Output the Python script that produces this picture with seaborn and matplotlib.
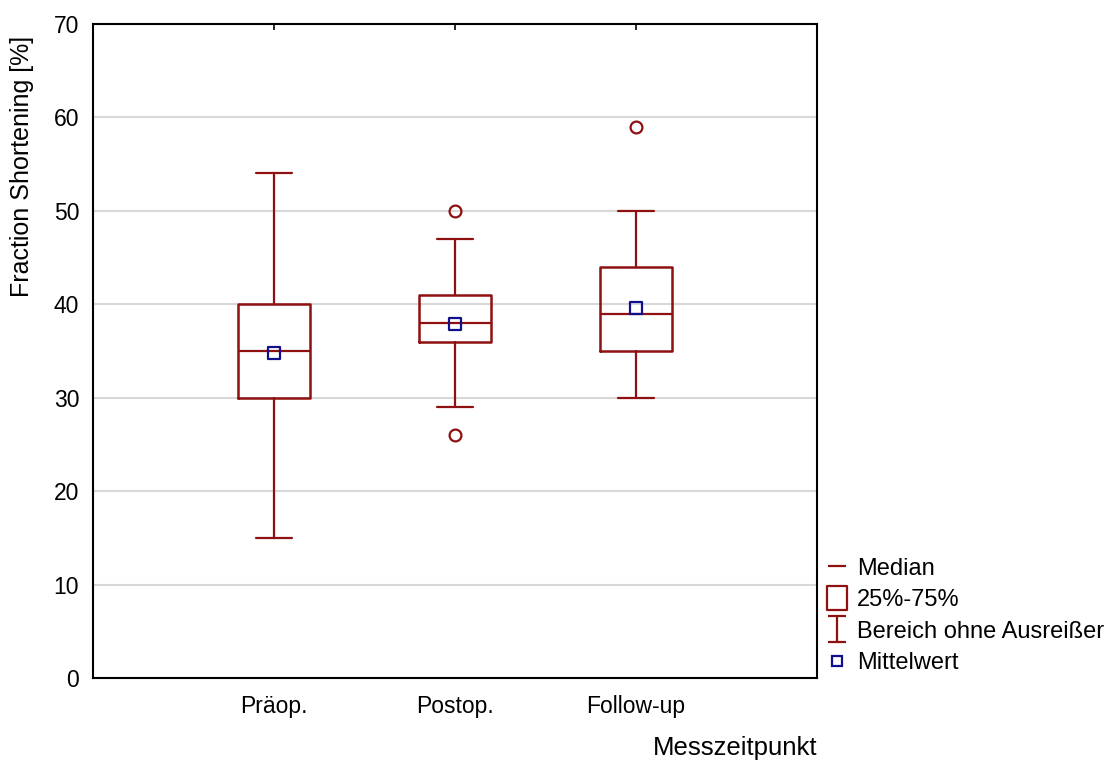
import numpy as np
import matplotlib
matplotlib.use("Agg")
import matplotlib.pyplot as plt
from matplotlib.lines import Line2D
from matplotlib.path import Path
import seaborn as sns

# ---- data ----
categories = ["Präop.", "Postop.", "Follow-up"]
q1 = [30, 36, 35]
medians = [35, 38, 39]
q3 = [40, 41, 44]
whisker_low = [15, 29, 30]
whisker_high = [54, 47, 50]
outliers = [[], [26, 50], [59]]
means = [34.8, 37.9, 39.6]

yticks = [0, 10, 20, 30, 40, 50, 60, 70]
legend_labels = ["Median", "25%-75%", "Bereich ohne Ausreißer", "Mittelwert"]

RED = "#8e1010"
BLUE = "#10108e"

sns.set_style("white")
plt.rcParams["font.family"] = ["Liberation Sans", "DejaVu Sans"]
plt.rcParams["text.color"] = "black"
plt.rcParams["xtick.color"] = "black"
plt.rcParams["ytick.color"] = "black"
plt.rcParams["axes.labelcolor"] = "black"

fig = plt.figure(figsize=(11.09, 7.62), dpi=100)
ax = fig.add_axes([93 / 1109, 1 - 678 / 762, (817 - 93) / 1109, (678 - 24) / 762])

positions = np.arange(len(categories))
stats = []
for i, c in enumerate(categories):
    stats.append(dict(label=c, q1=q1[i], med=medians[i], q3=q3[i],
                      whislo=whisker_low[i], whishi=whisker_high[i],
                      fliers=outliers[i], mean=means[i]))

ax.bxp(stats, positions=positions, widths=0.4, showmeans=False,
       boxprops=dict(color=RED, linewidth=1.8),
       medianprops=dict(color=RED, linewidth=1.6),
       whiskerprops=dict(color=RED, linewidth=1.6),
       capprops=dict(color=RED, linewidth=1.6),
       flierprops=dict(marker="o", markerfacecolor="none", markeredgecolor=RED,
                       markersize=8.5, markeredgewidth=1.6),
       manage_ticks=False, zorder=3)

sns.scatterplot(x=positions, y=means, marker="s", s=80, facecolor="none",
                edgecolor=BLUE, linewidth=1.6, ax=ax, zorder=4, legend=False)

ax.set_xlim(-1, 3)
ax.set_ylim(0, 70)
ax.set_yticks(yticks)
ax.set_xticks(positions)
ax.set_xticklabels(categories)
ax.yaxis.grid(True, color="#d8d8d8", linewidth=1.5, zorder=0)
ax.xaxis.grid(False)
ax.set_axisbelow(True)
for sp in ax.spines.values():
    sp.set_color("black")
    sp.set_linewidth(1.5)
    sp.set_visible(True)
ax.tick_params(axis="y", length=0, pad=10, labelsize=16.5)
ax.tick_params(axis="x", bottom=False, top=True, direction="in", length=4,
               width=1.2, labelbottom=True, labeltop=False, pad=12, labelsize=16.5)
ax.set_ylabel("")

fig.text(22 / 1109, 1 - 166 / 762, "Fraction Shortening [%]", rotation=90,
         ha="center", va="center", fontsize=18)
fig.text(817 / 1109, 1 - 748 / 762, "Messzeitpunkt", ha="right", va="center",
         fontsize=18.5)

# legend handles
rect = Path([(-0.42, -0.5), (0.42, -0.5), (0.42, 0.5), (-0.42, 0.5), (-0.42, -0.5)],
            [Path.MOVETO, Path.LINETO, Path.LINETO, Path.LINETO, Path.CLOSEPOLY])
whis = Path([(-0.33, 0.5), (0.33, 0.5), (0, 0.5), (0, -0.5), (-0.33, -0.5), (0.33, -0.5)],
            [Path.MOVETO, Path.LINETO, Path.MOVETO, Path.LINETO, Path.MOVETO, Path.LINETO])
handles = [
    Line2D([], [], linestyle="none", marker="_", markersize=13, markeredgecolor=RED,
           markeredgewidth=1.6),
    Line2D([], [], linestyle="none", marker=rect, markersize=17, markerfacecolor="none",
           markeredgecolor=RED, markeredgewidth=1.6),
    Line2D([], [], linestyle="none", marker=whis, markersize=19, markerfacecolor="none",
           markeredgecolor=RED, markeredgewidth=1.6),
    Line2D([], [], linestyle="none", marker="s", markersize=7, markerfacecolor="none",
           markeredgecolor=BLUE, markeredgewidth=1.6),
]
fig.legend(handles, legend_labels, loc="lower left",
           bbox_to_anchor=(825 / 1109, 1 - 674 / 762), frameon=False,
           fontsize=17, handlelength=1.0, handletextpad=0.35, labelspacing=0.4,
           borderpad=0, borderaxespad=0)

fig.savefig("out.png", dpi=100)
